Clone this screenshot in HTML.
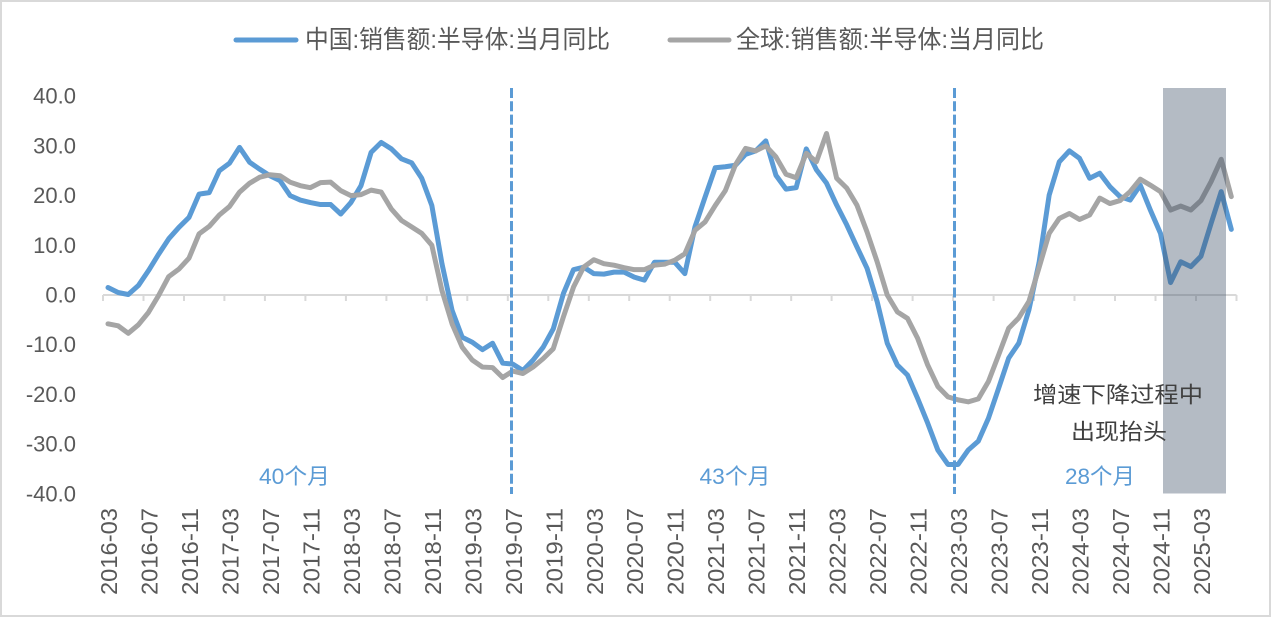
<!DOCTYPE html>
<html>
<head>
<meta charset="utf-8">
<style>
  html, body { margin: 0; padding: 0; background: #ffffff; }
  body { width: 1271px; height: 617px; overflow: hidden; }
  svg { display: block; }
  text { font-family: "Liberation Sans", "Noto Sans CJK SC", sans-serif; }
</style>
</head>
<body>
<svg width="1271" height="617" viewBox="0 0 1271 617" xmlns="http://www.w3.org/2000/svg">
  <rect x="0" y="0" width="1271" height="617" fill="#ffffff"/>
  <rect x="1" y="1" width="1269" height="615" fill="none" stroke="#d9d9d9" stroke-width="2"/>

  <!-- Legend -->
  <line x1="236" y1="40" x2="296" y2="40" stroke="#5b9bd5" stroke-width="5" stroke-linecap="round"/>
  <text x="305" y="40" font-size="25" fill="#595959" dominant-baseline="central" textLength="305" lengthAdjust="spacingAndGlyphs">中国:销售额:半导体:当月同比</text>
  <line x1="670" y1="40" x2="729" y2="40" stroke="#a5a5a5" stroke-width="5" stroke-linecap="round"/>
  <text x="736" y="40" font-size="25" fill="#595959" dominant-baseline="central" textLength="308" lengthAdjust="spacingAndGlyphs">全球:销售额:半导体:当月同比</text>

  <!-- Y axis labels -->
  <g font-size="22" fill="#595959" text-anchor="end" dominant-baseline="central">
    <text x="76" y="96.2">40.0</text>
    <text x="76" y="145.9">30.0</text>
    <text x="76" y="195.6">20.0</text>
    <text x="76" y="245.3">10.0</text>
    <text x="76" y="295">0.0</text>
    <text x="76" y="344.7">-10.0</text>
    <text x="76" y="394.4">-20.0</text>
    <text x="76" y="444.1">-30.0</text>
    <text x="76" y="493.8">-40.0</text>
  </g>

  <!-- X axis line and ticks -->
  <line x1="103" y1="295" x2="1236.5" y2="295" stroke="#d9d9d9" stroke-width="2"/>
  <g stroke="#d9d9d9" stroke-width="2">
    <line x1="103" y1="295" x2="103" y2="301"/>
    <line x1="143.5" y1="295" x2="143.5" y2="301"/>
    <line x1="184" y1="295" x2="184" y2="301"/>
    <line x1="224.4" y1="295" x2="224.4" y2="301"/>
    <line x1="264.9" y1="295" x2="264.9" y2="301"/>
    <line x1="305.4" y1="295" x2="305.4" y2="301"/>
    <line x1="345.9" y1="295" x2="345.9" y2="301"/>
    <line x1="386.4" y1="295" x2="386.4" y2="301"/>
    <line x1="426.8" y1="295" x2="426.8" y2="301"/>
    <line x1="467.3" y1="295" x2="467.3" y2="301"/>
    <line x1="507.8" y1="295" x2="507.8" y2="301"/>
    <line x1="548.3" y1="295" x2="548.3" y2="301"/>
    <line x1="588.8" y1="295" x2="588.8" y2="301"/>
    <line x1="629.2" y1="295" x2="629.2" y2="301"/>
    <line x1="669.7" y1="295" x2="669.7" y2="301"/>
    <line x1="710.2" y1="295" x2="710.2" y2="301"/>
    <line x1="750.7" y1="295" x2="750.7" y2="301"/>
    <line x1="791.2" y1="295" x2="791.2" y2="301"/>
    <line x1="831.6" y1="295" x2="831.6" y2="301"/>
    <line x1="872.1" y1="295" x2="872.1" y2="301"/>
    <line x1="912.6" y1="295" x2="912.6" y2="301"/>
    <line x1="953.1" y1="295" x2="953.1" y2="301"/>
    <line x1="993.6" y1="295" x2="993.6" y2="301"/>
    <line x1="1034" y1="295" x2="1034" y2="301"/>
    <line x1="1074.5" y1="295" x2="1074.5" y2="301"/>
    <line x1="1115" y1="295" x2="1115" y2="301"/>
    <line x1="1155.5" y1="295" x2="1155.5" y2="301"/>
    <line x1="1196" y1="295" x2="1196" y2="301"/>
    <line x1="1236.5" y1="295" x2="1236.5" y2="301"/>
  </g>

  <!-- X labels -->
  <g font-size="23" fill="#595959" text-anchor="end" dominant-baseline="central">
    <text transform="translate(109,508) rotate(-90)" textLength="87" lengthAdjust="spacingAndGlyphs">2016-03</text>
    <text transform="translate(149.5,508) rotate(-90)" textLength="87" lengthAdjust="spacingAndGlyphs">2016-07</text>
    <text transform="translate(190,508) rotate(-90)" textLength="87" lengthAdjust="spacingAndGlyphs">2016-11</text>
    <text transform="translate(230.4,508) rotate(-90)" textLength="87" lengthAdjust="spacingAndGlyphs">2017-03</text>
    <text transform="translate(270.9,508) rotate(-90)" textLength="87" lengthAdjust="spacingAndGlyphs">2017-07</text>
    <text transform="translate(311.4,508) rotate(-90)" textLength="87" lengthAdjust="spacingAndGlyphs">2017-11</text>
    <text transform="translate(351.9,508) rotate(-90)" textLength="87" lengthAdjust="spacingAndGlyphs">2018-03</text>
    <text transform="translate(392.4,508) rotate(-90)" textLength="87" lengthAdjust="spacingAndGlyphs">2018-07</text>
    <text transform="translate(432.8,508) rotate(-90)" textLength="87" lengthAdjust="spacingAndGlyphs">2018-11</text>
    <text transform="translate(473.3,508) rotate(-90)" textLength="87" lengthAdjust="spacingAndGlyphs">2019-03</text>
    <text transform="translate(513.8,508) rotate(-90)" textLength="87" lengthAdjust="spacingAndGlyphs">2019-07</text>
    <text transform="translate(554.3,508) rotate(-90)" textLength="87" lengthAdjust="spacingAndGlyphs">2019-11</text>
    <text transform="translate(594.8,508) rotate(-90)" textLength="87" lengthAdjust="spacingAndGlyphs">2020-03</text>
    <text transform="translate(635.2,508) rotate(-90)" textLength="87" lengthAdjust="spacingAndGlyphs">2020-07</text>
    <text transform="translate(675.7,508) rotate(-90)" textLength="87" lengthAdjust="spacingAndGlyphs">2020-11</text>
    <text transform="translate(716.2,508) rotate(-90)" textLength="87" lengthAdjust="spacingAndGlyphs">2021-03</text>
    <text transform="translate(756.7,508) rotate(-90)" textLength="87" lengthAdjust="spacingAndGlyphs">2021-07</text>
    <text transform="translate(797.2,508) rotate(-90)" textLength="87" lengthAdjust="spacingAndGlyphs">2021-11</text>
    <text transform="translate(837.6,508) rotate(-90)" textLength="87" lengthAdjust="spacingAndGlyphs">2022-03</text>
    <text transform="translate(878.1,508) rotate(-90)" textLength="87" lengthAdjust="spacingAndGlyphs">2022-07</text>
    <text transform="translate(918.6,508) rotate(-90)" textLength="87" lengthAdjust="spacingAndGlyphs">2022-11</text>
    <text transform="translate(959.1,508) rotate(-90)" textLength="87" lengthAdjust="spacingAndGlyphs">2023-03</text>
    <text transform="translate(999.6,508) rotate(-90)" textLength="87" lengthAdjust="spacingAndGlyphs">2023-07</text>
    <text transform="translate(1040,508) rotate(-90)" textLength="87" lengthAdjust="spacingAndGlyphs">2023-11</text>
    <text transform="translate(1080.5,508) rotate(-90)" textLength="87" lengthAdjust="spacingAndGlyphs">2024-03</text>
    <text transform="translate(1121,508) rotate(-90)" textLength="87" lengthAdjust="spacingAndGlyphs">2024-07</text>
    <text transform="translate(1161.5,508) rotate(-90)" textLength="87" lengthAdjust="spacingAndGlyphs">2024-11</text>
    <text transform="translate(1202,508) rotate(-90)" textLength="87" lengthAdjust="spacingAndGlyphs">2025-03</text>
  </g>

  <!-- Series (data coords: x = month index, y = value) -->
  <g transform="translate(108,295) scale(10.12,-4.97)">
    <polyline fill="none" stroke="#5b9bd5" stroke-width="5" stroke-linejoin="round" stroke-linecap="round" vector-effect="non-scaling-stroke"
      points="0,1.5 1,0.5 2,0.1 3,1.9 4,4.9 5,8.2 6,11.3 7,13.6 8,15.6 9,20.3 10,20.6 11,25 12,26.5 13,29.7 14,26.7 15,25.3 16,24 17,23 18,20 19,19.1 20,18.6 21,18.2 22,18.2 23,16.3 24,18.6 25,22 26,28.7 27,30.7 28,29.4 29,27.4 30,26.6 31,23.5 32,18 33,6.3 34,-3.1 35,-8.5 36,-9.5 37,-11 38,-9.7 39,-13.7 40,-13.9 41,-15.2 42,-13.1 43,-10.5 44,-6.8 45,0.3 46,5.1 47,5.6 48,4.3 49,4.2 50,4.6 51,4.6 52,3.6 53,3 54,6.6 55,6.6 56,6.6 57,4.3 58,13.7 59,19.7 60,25.6 61,25.8 62,26.1 63,28.3 64,29 65,31 66,24.1 67,21.3 68,21.6 69,29.4 70,25.2 71,22.5 72,18.1 73,14.1 74,9.7 75,5.4 76,-1.3 77,-9.7 78,-14.1 79,-16.1 80,-20.8 81,-25.8 82,-31.2 83,-34.1 84,-34.1 85,-31.2 86,-29.4 87,-24.8 88,-18.8 89,-12.7 90,-9.7 91,-3 92,6.5 93,20.1 94,26.8 95,29 96,27.5 97,23.5 98,24.5 99,21.8 100,19.8 101,19.1 102,22.1 103,17.1 104,12.4 105,2.5 106,6.7 107,5.7 108,7.8 109,14.4 110,20.8 111,13.2"/>
    <polyline fill="none" stroke="#a5a5a5" stroke-width="5" stroke-linejoin="round" stroke-linecap="round" vector-effect="non-scaling-stroke"
      points="0,-5.8 1,-6.2 2,-7.7 3,-6 4,-3.5 5,-0.1 6,3.7 7,5.2 8,7.4 9,12.3 10,13.8 11,16.1 12,17.8 13,20.7 14,22.5 15,23.7 16,24.2 17,24 18,22.7 19,22 20,21.6 21,22.6 22,22.7 23,21 24,20 25,20.2 26,21.1 27,20.7 28,17.3 29,15 30,13.7 31,12.4 32,10 33,0.9 34,-5.8 35,-10.5 36,-13.1 37,-14.5 38,-14.6 39,-16.6 40,-15.3 41,-15.8 42,-14.5 43,-12.8 44,-10.8 45,-4.4 46,1.6 47,5.6 48,7.1 49,6.3 50,6 51,5.5 52,5.1 53,5.1 54,6 55,6.2 56,7 57,8.3 58,13 59,14.7 60,18 61,21 62,26.2 63,29.5 64,29 65,30 66,27.8 67,24.3 68,23.6 69,28.5 70,26.8 71,32.5 72,23.5 73,21.5 74,18.1 75,12.7 76,6.7 77,0 78,-3.4 79,-4.7 80,-8.7 81,-14.1 82,-18.4 83,-20.5 84,-21.1 85,-21.5 86,-20.9 87,-17.4 88,-12.1 89,-6.7 90,-4.6 91,-1.3 92,5.5 93,12.4 94,15.4 95,16.4 96,15.2 97,16.1 98,19.5 99,18.4 100,19 101,20.8 102,23.3 103,22.1 104,20.8 105,17.1 106,17.9 107,17.1 108,19 109,22.8 110,27.3 111,19.8"/>
  </g>

  <!-- Dashed vertical markers -->
  <line x1="511.5" y1="88" x2="511.5" y2="494" stroke="#5b9bd5" stroke-width="3" stroke-dasharray="10 3.3"/>
  <line x1="954.5" y1="88" x2="954.5" y2="494" stroke="#5b9bd5" stroke-width="3" stroke-dasharray="10 3.3"/>

  <!-- Shaded region -->
  <rect x="1163" y="88" width="63" height="405.5" fill="rgb(67,85,107)" fill-opacity="0.4"/>

  <!-- Annotations -->
  <g font-size="22" fill="#5b9bd5" text-anchor="middle" dominant-baseline="central">
    <text x="294.5" y="476.5" textLength="71" lengthAdjust="spacingAndGlyphs">40个月</text>
    <text x="735" y="476.5" textLength="71" lengthAdjust="spacingAndGlyphs">43个月</text>
    <text x="1100" y="476.5" textLength="70" lengthAdjust="spacingAndGlyphs">28个月</text>
  </g>
  <g font-size="22" fill="#404040" text-anchor="middle" dominant-baseline="central">
    <text x="1118" y="395" textLength="170" lengthAdjust="spacingAndGlyphs">增速下降过程中</text>
    <text x="1119" y="432" textLength="96" lengthAdjust="spacingAndGlyphs">出现抬头</text>
  </g>
</svg>
</body>
</html>
